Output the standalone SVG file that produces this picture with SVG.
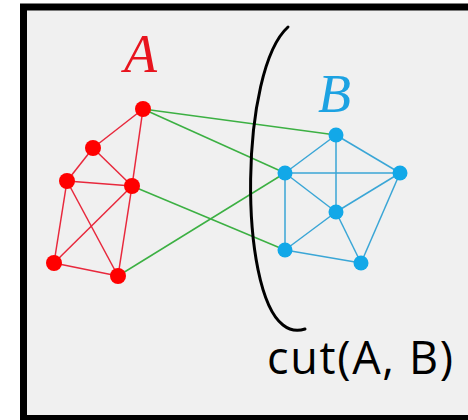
<svg xmlns="http://www.w3.org/2000/svg" width="468" height="420" viewBox="0 0 468 420">
<style>
.fr{fill:#f0f0f0;stroke:#000;stroke-width:7}
.re{stroke:#e8283c;stroke-width:1.5;fill:none}
.be{stroke:#3aa6d6;stroke-width:1.5;fill:none}
.ge{stroke:#3cb043;stroke-width:1.5;fill:none}
.rn{fill:#ff0000}
.bn{fill:#12a8e8}
.lbl{font-family:"Liberation Serif","DejaVu Serif",serif;font-style:italic;font-size:54px}
.cut{font-family:"Open Sans","Liberation Sans",sans-serif;font-size:45px;fill:#000}
</style>
<rect class="fr" x="23.5" y="7" width="470" height="411.5"/>
<g id="connectors">
<line class="re" x1="143" y1="109" x2="93" y2="148"/>
<line class="re" x1="143" y1="109" x2="132" y2="186"/>
<line class="re" x1="93" y1="148" x2="67" y2="181"/>
<line class="re" x1="93" y1="148" x2="132" y2="186"/>
<line class="re" x1="67" y1="181" x2="132" y2="186"/>
<line class="re" x1="67" y1="181" x2="54" y2="263"/>
<line class="re" x1="67" y1="181" x2="118" y2="276"/>
<line class="re" x1="132" y1="186" x2="54" y2="263"/>
<line class="re" x1="132" y1="186" x2="118" y2="276"/>
<line class="re" x1="54" y1="263" x2="118" y2="276"/>
<line class="be" x1="336" y1="135" x2="285" y2="173"/>
<line class="be" x1="336" y1="135" x2="400" y2="173"/>
<line class="be" x1="336" y1="135" x2="336" y2="212"/>
<line class="be" x1="285" y1="173" x2="400" y2="173"/>
<line class="be" x1="285" y1="173" x2="336" y2="212"/>
<line class="be" x1="285" y1="173" x2="285" y2="250"/>
<line class="be" x1="400" y1="173" x2="336" y2="212"/>
<line class="be" x1="400" y1="173" x2="361" y2="263"/>
<line class="be" x1="336" y1="212" x2="285" y2="250"/>
<line class="be" x1="336" y1="212" x2="361" y2="263"/>
<line class="be" x1="285" y1="250" x2="361" y2="263"/>
<line class="ge" x1="143" y1="109" x2="336" y2="135"/>
<line class="ge" x1="143" y1="109" x2="285" y2="173"/>
<line class="ge" x1="132" y1="186" x2="285" y2="250"/>
<line class="ge" x1="118" y1="276" x2="285" y2="173"/>
</g>
<g id="nodeA1"><circle class="rn" cx="143" cy="109" r="8"/></g>
<g id="nodeA2"><circle class="rn" cx="93" cy="148" r="8"/></g>
<g id="nodeA3"><circle class="rn" cx="67" cy="181" r="8"/></g>
<g id="nodeA4"><circle class="rn" cx="132" cy="186" r="8"/></g>
<g id="nodeA5"><circle class="rn" cx="54" cy="263" r="8"/></g>
<g id="nodeA6"><circle class="rn" cx="118" cy="276" r="8"/></g>
<g id="nodeB1"><circle class="bn" cx="336" cy="135" r="7.5"/></g>
<g id="nodeB2"><circle class="bn" cx="285" cy="173" r="7.5"/></g>
<g id="nodeB3"><circle class="bn" cx="400" cy="173" r="7.5"/></g>
<g id="nodeB4"><circle class="bn" cx="336" cy="212" r="7.5"/></g>
<g id="nodeB5"><circle class="bn" cx="285" cy="250" r="7.5"/></g>
<g id="nodeB6"><circle class="bn" cx="361" cy="263" r="7.5"/></g>
<g id="cut">
<path d="M288,27 C240,70 238,290 283,325 Q293,333 305,329" fill="none" stroke="#000" stroke-width="3" stroke-linecap="round"/>
</g>
<text class="lbl" x="124" y="72" fill="#e8141e">A</text>
<text class="lbl" x="318" y="112" fill="#1ca2e2">B</text>
<text class="cut" x="267" y="374" textLength="186" lengthAdjust="spacing">cut(A, B)</text>
</svg>
